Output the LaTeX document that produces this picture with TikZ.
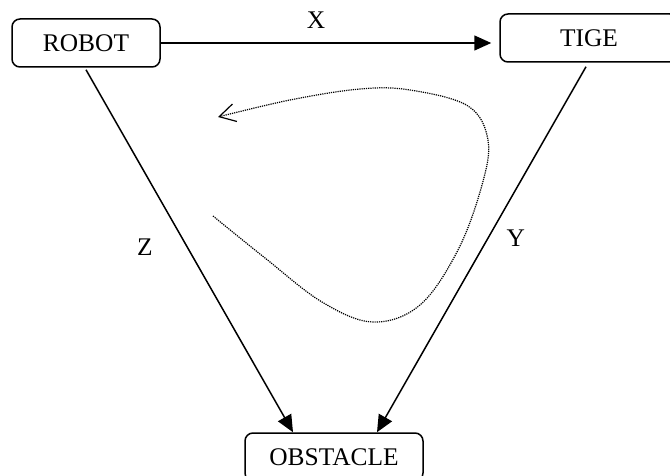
\documentclass[tikz,border=0pt]{standalone}
\usepackage{fontspec}
\setmainfont{Liberation Serif}
\usepackage{xcolor}
\usetikzlibrary{arrows.meta,positioning,calc}
\definecolor{Ink}{HTML}{000000}

\tikzset{
  block/.style={draw=Ink, line width=0.75pt, rounded corners=4pt, minimum height=24pt, inner sep=0pt, font=\fontsize{12.7}{15}\selectfont},
  lbl/.style={font=\fontsize{12.7}{15}\selectfont, inner sep=0pt},
  link/.style={draw=Ink, line width=0.75pt, -{Triangle[length=8.5pt, width=7.5pt]}},
  loop/.style={draw=Ink, line width=0.6pt, dash pattern=on 0.6pt off 0.5pt, -{Straight Barb[length=8pt, width=9pt, line width=0.6pt]}}
}

\begin{document}
\begin{tikzpicture}[x=0.5pt, y=-0.5pt]
  \useasboundingbox (0,0) rectangle (670,476);
  \node[block, minimum width=74pt] (robot) at (86,43) {ROBOT};
  \node[block, minimum width=89pt] (tige) at (589,38) {TIGE};
  \node[block, minimum width=89pt] (obstacle) at (334,457) {OBSTACLE};

  \draw[link] (robot.east) -- ([xshift=-4pt]robot.east -| tige.west) node[lbl, pos=0.47, above=7pt] {X};
  \draw[link] ([yshift=-1pt]robot.south) -- ([xshift=-20.5pt]obstacle.north) node[lbl, pos=0.49, left=17pt] {Z};
  \draw[link] ([xshift=-1.5pt, yshift=-2pt]tige.south) -- ([xshift=21.5pt]obstacle.north) node[lbl, pos=0.47, right=9pt] {Y};

  \draw[loop] plot[smooth, tension=0.6] coordinates {(213,216) (265,258) (322,302) (373,322) (420,305) (458,250) (482,185) (488,140) (468,106) (410,90) (360,89) (290,100) (218,117)};
\end{tikzpicture}
\end{document}
